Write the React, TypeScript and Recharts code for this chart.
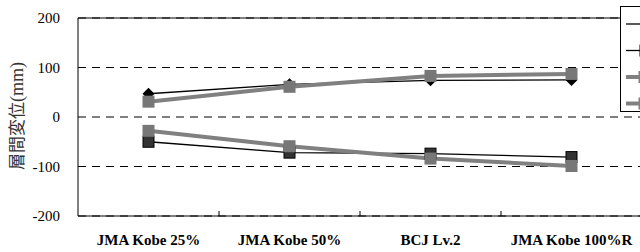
import React from 'react';
import { LineChart, Line, XAxis, YAxis, CartesianGrid, ReferenceLine } from 'recharts';

const categories = ['JMA Kobe 25%', 'JMA Kobe 50%', 'BCJ Lv.2', 'JMA Kobe 100%R'];
const expPos = [47, 66, 74, 75];
const expNeg = [-50, -72, -74, -81];
const anaPos = [31, 61, 83, 87];
const anaNeg = [-28, -59, -84, -99];
const yTicks = [-200, -100, 0, 100, 200];

const seriesNames = ['実験値(+)', '実験値(-)', '解析値(+)', '解析値(-)'];

const data = categories.map((c, i) => ({
  name: c,
  expPos: expPos[i],
  expNeg: expNeg[i],
  anaPos: anaPos[i],
  anaNeg: anaNeg[i],
}));

const serif = '"Liberation Serif", "Times New Roman", serif';
const HALF_BAND = 70.5;

const Diamond = (props: any) => {
  const { cx, cy } = props;
  if (cx == null || cy == null) return null;
  const r = 6;
  return <path d={`M${cx},${cy - r}L${cx + r},${cy}L${cx},${cy + r}L${cx - r},${cy}Z`} fill="#000" />;
};

const DarkSquare = (props: any) => {
  const { cx, cy } = props;
  if (cx == null || cy == null) return null;
  return <rect x={cx - 5.5} y={cy - 5.5} width={11} height={11} fill="#333" stroke="#000" strokeWidth={1} />;
};

const GraySquare = (props: any) => {
  const { cx, cy } = props;
  if (cx == null || cy == null) return null;
  return <rect x={cx - 6} y={cy - 6} width={12} height={12} fill="#777" />;
};

const XTick = (props: any) => {
  const { x, y, payload, index } = props;
  return (
    <g>
      {index < categories.length - 1 && (
        <line x1={x + HALF_BAND} x2={x + HALF_BAND} y1={y} y2={y - 5} stroke="#000" strokeWidth={1} />
      )}
      <text x={x} y={y + 29} textAnchor="middle" style={{ fontFamily: serif, fontWeight: 'bold', fontSize: 15 }} fill="#000">
        {payload.value}
      </text>
    </g>
  );
};

const YTick = (props: any) => {
  const { x, y, payload } = props;
  return (
    <text x={x} y={y} dy={5} textAnchor="end" style={{ fontFamily: serif, fontSize: 15 }} fill="#000">
      {payload.value}
    </text>
  );
};

const legendRows = [
  { name: seriesNames[0], color: '#000', width: 1.3, cap: false },
  { name: seriesNames[1], color: '#000', width: 1.3, cap: true },
  { name: seriesNames[2], color: '#808080', width: 4, cap: true },
  { name: seriesNames[3], color: '#808080', width: 4, cap: true },
];

export default function App() {
  return (
    <div style={{ position: 'absolute', left: 0, top: 0, width: 640, height: 252, overflow: 'hidden', background: '#fff' }}>
      <LineChart width={660} height={252} data={data} margin={{ top: 18, right: 18, bottom: 0, left: 0 }}>
        <CartesianGrid vertical={false} stroke="#000" strokeDasharray="8 6" />
        <ReferenceLine y={200} stroke="#000" strokeWidth={1} />
        <XAxis
          dataKey="name"
          height={36}
          padding={{ left: HALF_BAND, right: HALF_BAND }}
          tickLine={false}
          tickSize={0}
          tickMargin={0}
          axisLine={{ stroke: '#000', strokeWidth: 1 }}
          tick={<XTick />}
          interval={0}
        />
        <YAxis
          width={78}
          domain={[-200, 200]}
          ticks={yTicks}
          tickLine={false}
          tickSize={0}
          tickMargin={18}
          axisLine={{ stroke: '#000', strokeWidth: 1 }}
          tick={<YTick />}
        />
        <Line dataKey="expPos" name={seriesNames[0]} stroke="#000" strokeWidth={1.3} dot={<Diamond />} isAnimationActive={false} />
        <Line dataKey="expNeg" name={seriesNames[1]} stroke="#000" strokeWidth={1.3} dot={<DarkSquare />} isAnimationActive={false} />
        <Line dataKey="anaPos" name={seriesNames[2]} stroke="#808080" strokeWidth={4} dot={<GraySquare />} isAnimationActive={false} />
        <Line dataKey="anaNeg" name={seriesNames[3]} stroke="#808080" strokeWidth={4} dot={<GraySquare />} isAnimationActive={false} />
      </LineChart>
      <div
        style={{
          position: 'absolute',
          left: 16,
          top: 116,
          transform: 'translate(-50%, -50%) rotate(-90deg)',
          whiteSpace: 'nowrap',
          fontFamily: '"Noto Sans CJK JP", serif',
          fontSize: 17,
          color: '#333',
          lineHeight: 1,
        }}
      >
        層間変位<span style={{ fontFamily: serif, fontSize: 18 }}>(mm)</span>
      </div>
      <div
        style={{
          position: 'absolute',
          left: 620,
          top: 6,
          width: 80,
          height: 106,
          border: '1px solid #000',
          background: '#fff',
          boxSizing: 'border-box',
        }}
      >
        <svg width={80} height={106} style={{ position: 'absolute', left: 0, top: 0 }}>
          {legendRows.map((r, i) => {
            const y = 17 + i * 26.5;
            return (
              <g key={r.name}>
                <line x1={5} x2={22} y1={y} y2={y} stroke={r.color} strokeWidth={r.width} />
                {r.cap && <line x1={19} x2={19} y1={y - 6} y2={y + 6} stroke={r.color} strokeWidth={r.width > 2 ? 3 : 1} />}
                <text x={30} y={y + 5} style={{ fontFamily: serif, fontSize: 13 }}>{r.name}</text>
              </g>
            );
          })}
        </svg>
      </div>
    </div>
  );
}
